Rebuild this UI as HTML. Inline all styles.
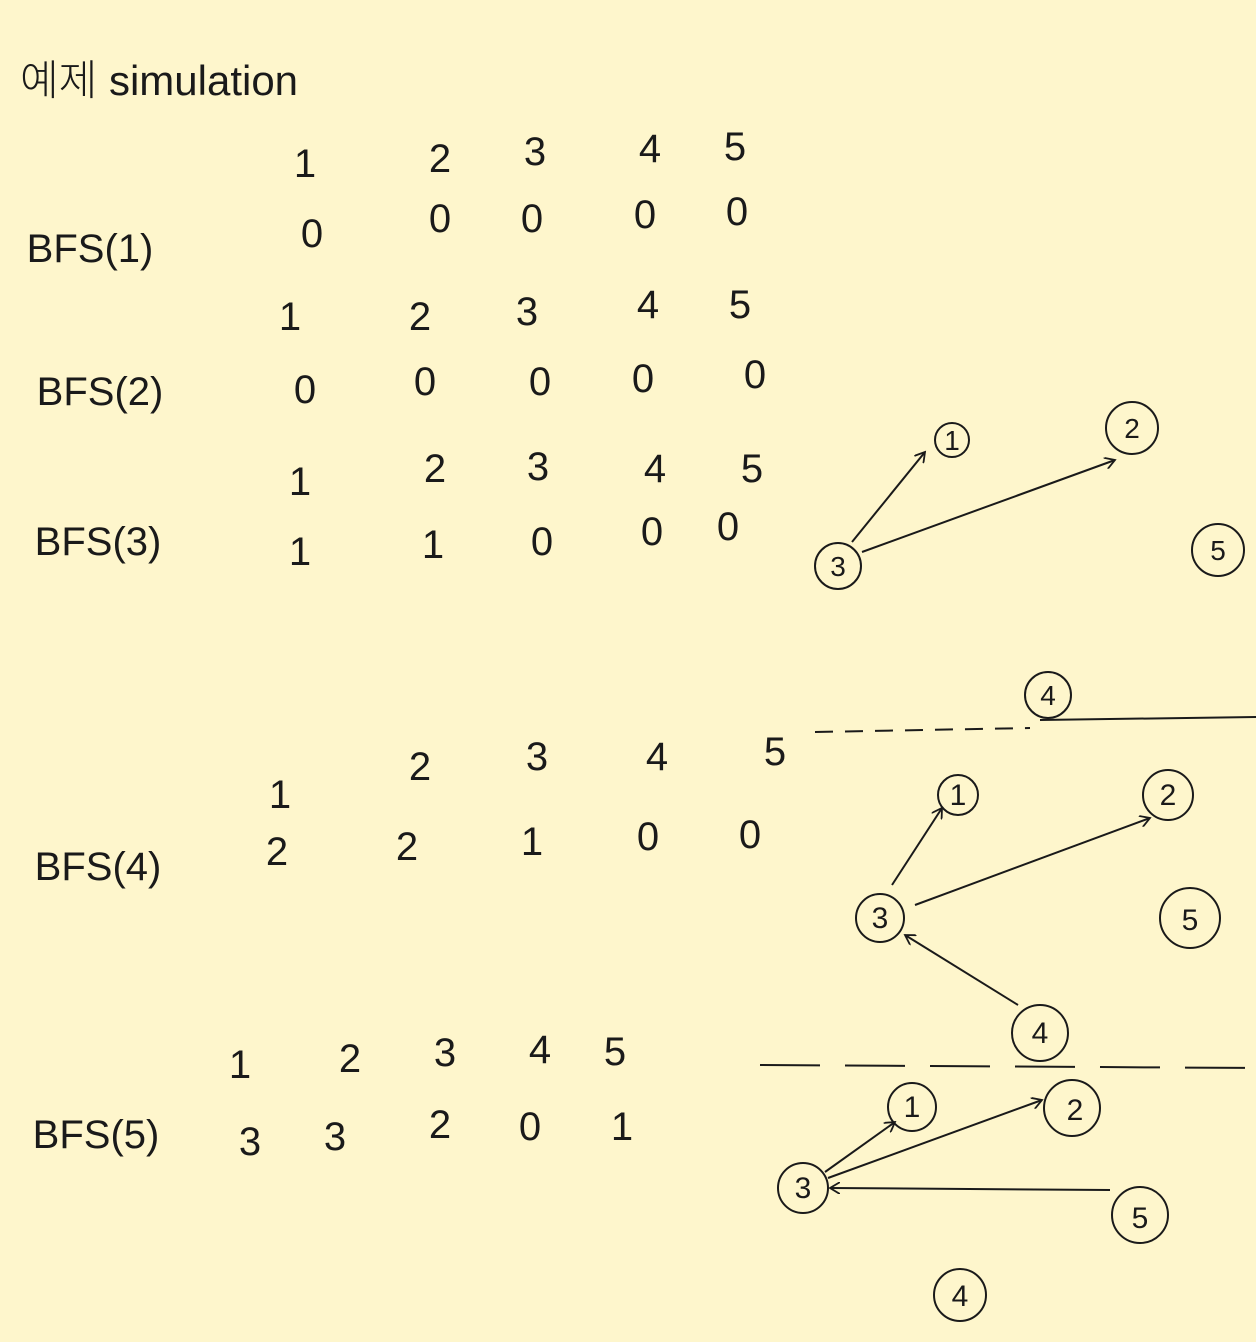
<!DOCTYPE html>
<html><head><meta charset="utf-8">
<style>
html,body{margin:0;padding:0;background:#fef6cc;}
svg{display:block;}
text{font-family:"Liberation Sans","Noto Sans CJK KR",sans-serif;fill:#1a1a1a;font-weight:300;}
</style></head>
<body>
<svg width="1256" height="1342" viewBox="0 0 1256 1342">
<defs>
<marker id="ah" markerWidth="12" markerHeight="12" refX="10" refY="6" orient="auto" markerUnits="userSpaceOnUse">
<path d="M0,0 L10,6 L0,12" fill="none" stroke="#1a1a1a" stroke-width="1.8"/>
</marker>
</defs>
<rect width="1256" height="1342" fill="#fef6cc"/>
<text x="20" y="95" font-size="42">예제 simulation</text>

<g font-size="40" text-anchor="middle">
<text x="90" y="262">BFS(1)</text>
<text x="305" y="177">1</text><text x="440" y="172">2</text><text x="535" y="165">3</text><text x="650" y="162">4</text><text x="735" y="160">5</text>
<text x="312" y="247">0</text><text x="440" y="232">0</text><text x="532" y="232">0</text><text x="645" y="228">0</text><text x="737" y="225">0</text>
</g>
<g font-size="40" text-anchor="middle">
<text x="100" y="405">BFS(2)</text>
<text x="290" y="330">1</text><text x="420" y="330">2</text><text x="527" y="325">3</text><text x="648" y="318">4</text><text x="740" y="318">5</text>
<text x="305" y="403">0</text><text x="425" y="395">0</text><text x="540" y="395">0</text><text x="643" y="392">0</text><text x="755" y="388">0</text>
</g>
<g font-size="40" text-anchor="middle">
<text x="98" y="555">BFS(3)</text>
<text x="300" y="495">1</text><text x="435" y="482">2</text><text x="538" y="480">3</text><text x="655" y="482">4</text><text x="752" y="482">5</text>
<text x="300" y="565">1</text><text x="433" y="558">1</text><text x="542" y="555">0</text><text x="652" y="545">0</text><text x="728" y="540">0</text>
</g>
<g font-size="40" text-anchor="middle">
<text x="98" y="880">BFS(4)</text>
<text x="280" y="808">1</text><text x="420" y="780">2</text><text x="537" y="770">3</text><text x="657" y="770">4</text><text x="775" y="765">5</text>
<text x="277" y="865">2</text><text x="407" y="860">2</text><text x="532" y="855">1</text><text x="648" y="850">0</text><text x="750" y="848">0</text>
</g>
<g font-size="40" text-anchor="middle">
<text x="96" y="1148">BFS(5)</text>
<text x="240" y="1078">1</text><text x="350" y="1072">2</text><text x="445" y="1066">3</text><text x="540" y="1063">4</text><text x="615" y="1065">5</text>
<text x="250" y="1155">3</text><text x="335" y="1150">3</text><text x="440" y="1138">2</text><text x="530" y="1140">0</text><text x="622" y="1140">1</text>
</g>

<g stroke="#1a1a1a" stroke-width="2" fill="none">
<circle cx="952" cy="440" r="17"/><circle cx="1132" cy="428" r="26"/><circle cx="838" cy="566" r="23"/><circle cx="1218" cy="550" r="26"/>
<line x1="852" y1="542" x2="925" y2="452" marker-end="url(#ah)"/>
<line x1="862" y1="552" x2="1115" y2="460" marker-end="url(#ah)"/>
</g>
<g font-size="28" text-anchor="middle">
<text x="952" y="450">1</text><text x="1132" y="438">2</text><text x="838" y="576">3</text><text x="1218" y="560">5</text>
</g>

<g stroke="#1a1a1a" stroke-width="2" fill="none">
<path d="M815 732 L1030 728" stroke-dasharray="18,12"/>
<path d="M1040 720 L1256 717"/>
<circle cx="1048" cy="695" r="23"/>
</g>
<text x="1048" y="705" font-size="28" text-anchor="middle">4</text>

<g stroke="#1a1a1a" stroke-width="2" fill="none">
<circle cx="958" cy="795" r="20"/><circle cx="1168" cy="795" r="25"/><circle cx="880" cy="918" r="24"/><circle cx="1190" cy="918" r="30"/><circle cx="1040" cy="1033" r="28"/>
<line x1="892" y1="885" x2="942" y2="808" marker-end="url(#ah)"/>
<line x1="915" y1="905" x2="1150" y2="818" marker-end="url(#ah)"/>
<line x1="1018" y1="1005" x2="905" y2="935" marker-end="url(#ah)"/>
</g>
<g font-size="30" text-anchor="middle">
<text x="958" y="805">1</text><text x="1168" y="805">2</text><text x="880" y="928">3</text><text x="1190" y="930">5</text><text x="1040" y="1043">4</text>
</g>

<g stroke="#1a1a1a" stroke-width="2" fill="none">
<path d="M760 1065 L1256 1068" stroke-dasharray="60,25"/>
</g>

<g stroke="#1a1a1a" stroke-width="2" fill="none">
<circle cx="912" cy="1107" r="24"/><circle cx="1072" cy="1108" r="28"/><circle cx="803" cy="1188" r="25"/><circle cx="1140" cy="1215" r="28"/><circle cx="960" cy="1295" r="26"/>
<line x1="825" y1="1172" x2="895" y2="1122" marker-end="url(#ah)"/>
<line x1="828" y1="1178" x2="1042" y2="1100" marker-end="url(#ah)"/>
<line x1="1110" y1="1190" x2="830" y2="1188" marker-end="url(#ah)"/>
</g>
<g font-size="30" text-anchor="middle">
<text x="912" y="1117">1</text><text x="1075" y="1120">2</text><text x="803" y="1198">3</text><text x="1140" y="1228">5</text><text x="960" y="1306">4</text>
</g>
</svg>
</body></html>
